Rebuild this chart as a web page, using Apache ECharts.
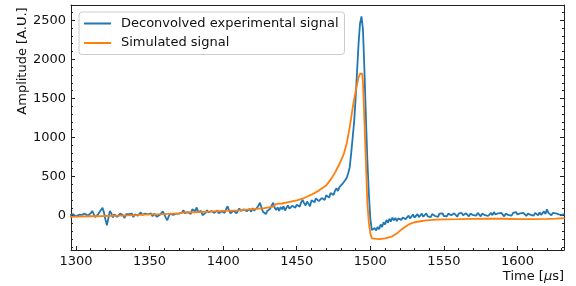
<!DOCTYPE html>
<html>
<head>
<meta charset="utf-8">
<script src="https://cdn.jsdelivr.net/npm/echarts@6/dist/echarts.min.js"></script>
<style>
  html, body { margin: 0; padding: 0; background: #ffffff; }
  #chart { width: 576px; height: 286px; }
</style>
</head>
<body>
<div id="chart"></div>
<script>
// deconvolved signal, one sample per µs starting at 1296
const TIME_START = 1296;
const deconvolved = [
  5, -15, 18, 25, -10, -20, 12, 35, 10, -15,       // 1296
  25, 40, 0, -25, 30, 60, 35, -20, -30, 15,        // 1306
  45, 70, 100, 40, -50, -125, -35, 60, 30, -25,    // 1316
  15, 35, -15, 5, 25, 40, 5, -30, 20, 45,          // 1326
  20, -5, 25, -20, 15, 35, 0, 20, 40, 10,          // 1336
  -15, 25, 45, 15, 5, 30, -10, 25, 40, -15,        // 1346
  -40, 10, 35, 55, 30, -25, -60, -10, 25, 45,      // 1356
  10, -5, 25, 50, 25, 5, 40, 70, 30, 10,           // 1366
  45, 65, 20, 80, 100, 55, 105, 45, 25, 60,        // 1376
  5, -15, 35, 70, 40, 20, 60, 80, 35, 25,          // 1386
  65, 30, 20, 55, 45, 35, 85, 120, 65, 30,         // 1396
  25, 65, 70, 30, 55, 90, 60, 40, 80, 100,         // 1406
  55, 45, 85, 50, 95, 65, 45, 100, 130, 165,       // 1416
  105, 50, 25, 20, 60, 40, 90, 130, 165, 100,      // 1426
  70, 105, 60, 110, 80, 120, 65, 100, 130, 90,     // 1436
  80, 125, 150, 100, 140, 160, 115, 170, 200, 160, // 1446
  130, 180, 150, 120, 195, 210, 170, 220, 235, 185,// 1456
  175, 225, 250, 200, 260, 275, 230, 290, 310, 265,// 1466
  320, 350, 315, 365, 390, 405, 425, 455, 485, 545,// 1476
  620, 800, 1000, 1200, 1500, 1850, 2200, 2460, 2550, 2380, // 1486
  1850, 1250, 700, 280, -40, -185, -205, -160, -190, -145,  // 1496
  -175, -115, -145, -85, -115, -55, -90, -40, -75, -25,     // 1506
  -60, -30, -70, -35, -15, -55, -25, -5, -45, -20,          // 1516
  0, -35, -10, 15, -25, 0, 20, -20, 5, 25,         // 1526
  -15, 10, 30, -10, 15, -20, 20, 35, -5, 15,       // 1536
  -15, 25, 0, 30, -5, 20, -10, 25, 40, 5,          // 1546
  -5, 30, 5, -15, 25, 0, 35, 5, -5, 30,            // 1556
  10, -10, 25, 45, 5, 30, 0, 35, 10, -10,          // 1566
  25, 40, 5, 30, -5, 20, 35, 5, 45, 15,            // 1576
  0, 30, 5, 35, 10, -10, 25, 40, 5, 30,            // 1586
  0, 35, 10, 45, 15, 0, 30, 5, 35, 10,             // 1596
  -5, 25, 50, 10, 30, 0, 35, 15, 5, 40,            // 1606
  10, 35, 55, 20, 80, 35, 15, 5, 35, 10,           // 1616
  30, 55, 15, 40, 10, 35, 20                       // 1626
];

// simulated signal
const simTime = [
  1296, 1300, 1310, 1320, 1330, 1340, 1350, 1360, 1370, 1375,
  1380, 1390, 1400, 1410, 1420, 1428, 1434, 1436, 1440, 1445,
  1450, 1455, 1460, 1465, 1470, 1473, 1476, 1479, 1482, 1484,
  1486, 1488, 1490, 1492, 1493, 1494.5, 1495, 1496, 1497, 1498,
  1499, 1500, 1501, 1502, 1506, 1510, 1515, 1518, 1521, 1524,
  1527, 1530, 1534, 1538, 1545, 1550, 1560, 1570, 1580, 1590,
  1600, 1610, 1620, 1626, 1632
];
const simulated = [
  -15, -12, -8, -5, 0, 5, 15, 20, 28, 45,
  42, 50, 60, 68, 82, 95, 115, 150, 155, 175,
  195, 225, 268, 320, 385, 460, 550, 660, 790, 930,
  1130, 1380, 1590, 1770, 1815, 1815, 1700, 1200, 680, 150,
  -90, -230, -290, -305, -300, -290, -265, -230, -180, -140,
  -105, -85, -72, -62, -52, -47, -45, -42, -40, -40,
  -44, -46, -42, -38, -32
];

const xTicks = [1300, 1350, 1400, 1450, 1500, 1550, 1600];
const xMinorTicks = [
  1300, 1310, 1320, 1330, 1340, 1350, 1360, 1370, 1380, 1390,
  1400, 1410, 1420, 1430, 1440, 1450, 1460, 1470, 1480, 1490,
  1500, 1510, 1520, 1530, 1540, 1550, 1560, 1570, 1580, 1590,
  1600, 1610, 1620, 1630
];
const yTicks = [0, 500, 1000, 1500, 2000, 2500];
const yMinorTicks = [
  -400, -300, -200, -100, 0, 100, 200, 300, 400, 500, 600, 700, 800, 900,
  1000, 1100, 1200, 1300, 1400, 1500, 1600, 1700, 1800, 1900, 2000,
  2100, 2200, 2300, 2400, 2500, 2600
];

const X_MIN = 1296.6, X_MAX = 1631.6;
const Y_MIN = -440, Y_MAX = 2695;
const FONT = 'DejaVu Sans';
const INK = '#111111';

const chart = echarts.init(document.getElementById('chart'), null, { renderer: 'canvas' });

function axisDef(pos, min, max, ticks, len, withLabels, withLine) {
  return {
    type: 'value', position: pos, min: min, max: max,
    axisLine: { show: withLine, onZero: false, lineStyle: { color: '#222', width: 1 } },
    axisTick: { show: true, inside: true, length: len, customValues: ticks, lineStyle: { color: '#222', width: 1 } },
    axisLabel: withLabels
      ? { show: true, customValues: ticks, margin: 5, color: INK, fontSize: 13, fontFamily: FONT, formatter: v => String(v) }
      : { show: false },
    splitLine: { show: false }
  };
}

chart.setOption({
  animation: false,
  backgroundColor: '#ffffff',
  grid: { left: 71, right: 12, top: 5, bottom: 36, containLabel: false },
  xAxis: [
    axisDef('bottom', X_MIN, X_MAX, xTicks, 4, true, true),
    axisDef('bottom', X_MIN, X_MAX, xMinorTicks, 2, false, false),
    // top spine, no ticks
    axisDef('top', X_MIN, X_MAX, [], 0, false, true)
  ],
  yAxis: [
    axisDef('left', Y_MIN, Y_MAX, yTicks, 4, true, true),
    axisDef('left', Y_MIN, Y_MAX, yMinorTicks, 2, false, false),
    axisDef('right', Y_MIN, Y_MAX, yTicks, 4, false, true),
    axisDef('right', Y_MIN, Y_MAX, yMinorTicks, 2, false, false)
  ],
  legend: {
    left: 79, top: 12, orient: 'vertical',
    padding: [4, 6, 4, 5],
    itemGap: 4.5, itemWidth: 27, itemHeight: 2,
    icon: 'rect',
    backgroundColor: 'rgba(255,255,255,0.8)',
    borderColor: '#cccccc', borderWidth: 1, borderRadius: 3,
    textStyle: { fontSize: 13, fontFamily: FONT, color: INK, lineHeight: 15, padding: [0, 0, 0, 5] },
    data: ['Deconvolved experimental signal', 'Simulated signal']
  },
  graphic: [
    {
      type: 'text', x: 22.5, y: 61, rotation: Math.PI / 2,
      style: { text: 'Amplitude [A.U.]', fontSize: 13, fontFamily: FONT, fill: INK, align: 'center', verticalAlign: 'middle' }
    },
    {
      type: 'text', x: 564, y: 277,
      style: {
        text: 'Time [{i|μ}s]', fontSize: 13, fontFamily: FONT, fill: INK, align: 'right', verticalAlign: 'middle',
        rich: { i: { fontStyle: 'italic', fontSize: 13, fontFamily: FONT, fill: INK } }
      }
    }
  ],
  series: [
    {
      name: 'Deconvolved experimental signal',
      type: 'line', xAxisIndex: 0, yAxisIndex: 0,
      showSymbol: false, symbol: 'none',
      color: '#1f77b4',
      lineStyle: { width: 1.8, color: '#1f77b4' },
      data: deconvolved.map((v, i) => [TIME_START + i, v])
    },
    {
      name: 'Simulated signal',
      type: 'line', xAxisIndex: 0, yAxisIndex: 0,
      showSymbol: false, symbol: 'none',
      color: '#ff7f0e',
      lineStyle: { width: 1.8, color: '#ff7f0e' },
      data: simTime.map((t, i) => [t, simulated[i]])
    }
  ]
});
</script>
</body>
</html>
